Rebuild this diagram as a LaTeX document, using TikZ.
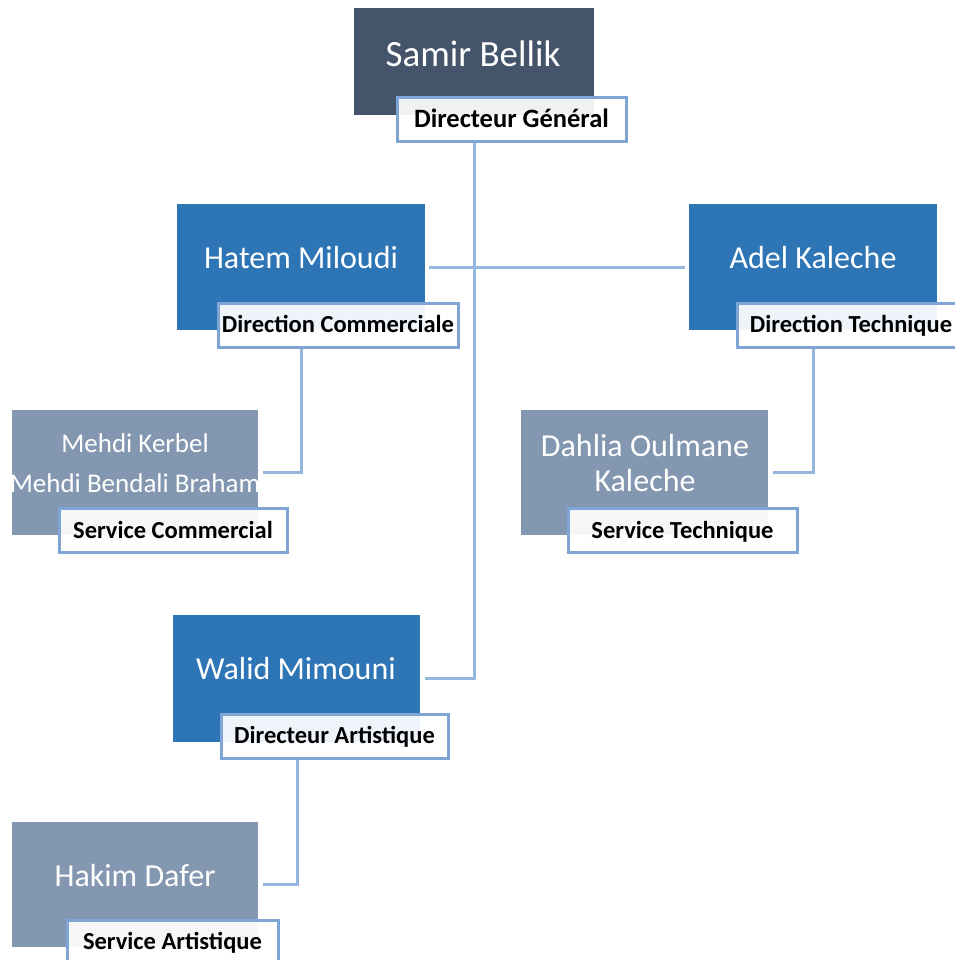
\documentclass[tikz,border=0pt]{standalone}
\usepackage{fontspec}
\setmainfont{Carlito}
\definecolor{slate}{HTML}{44546A}
\definecolor{chief}{HTML}{2E75B6}
\definecolor{staff}{HTML}{8497B0}
\definecolor{wire}{HTML}{95B6DF}
\definecolor{rim}{HTML}{7FA5D6}
\begin{document}
\begin{tikzpicture}[x=1pt,y=-1pt,
    box/.style={fill=#1,draw=none,inner sep=0pt},
    role/.style={draw=rim,line width=3pt,fill=white,fill opacity=0.92,text opacity=1,
      inner sep=0pt,minimum height=44pt,text height=15.5pt,text depth=0pt,
      font=\fontsize{24.5}{29}\selectfont\bfseries},
    who/.style={text=white,align=center,font=\fontsize{#1}{#1}\selectfont},
    link/.style={draw=wire,line width=3pt}]
  \useasboundingbox (0,0) rectangle (954,960);
  % people
  \node[box=slate,minimum width=240pt,minimum height=107pt] (samir) at (474,61.5) {};
  \node[box=chief,minimum width=248pt,minimum height=126pt] (hatem) at (301,267) {};
  \node[box=chief,minimum width=248pt,minimum height=126pt] (adel) at (813,267) {};
  \node[box=staff,minimum width=246pt,minimum height=125pt] (mehdi) at (135,472.5) {};
  \node[box=staff,minimum width=247pt,minimum height=125pt] (dahlia) at (644.5,472.5) {};
  \node[box=chief,minimum width=247pt,minimum height=127pt] (walid) at (296.5,678.5) {};
  \node[box=staff,minimum width=246pt,minimum height=125pt] (hakim) at (135,884.5) {};
  \node[who=37] (samirname) at (473,54) {Samir Bellik};
  \node[who=32] (hatemname) at (301,258) {Hatem Miloudi};
  \node[who=32] (adelname) at (813,258) {Adel Kaleche};
  \node[who=27,text depth=0pt] (mehdiname) at (135,463) {Mehdi Kerbel\\[13pt]Mehdi Bendali Braham};
  \node[who=32,align=center] (dahlianame) at (645,463) {Dahlia Oulmane\\[3pt]Kaleche};
  \node[who=32] (walidname) at (296,668) {Walid Mimouni};
  \node[who=32] (hakimname) at (135,875) {Hakim Dafer};
  % roles
  \node[role,minimum width=229pt,text height=17pt,font=\fontsize{26.5}{31}\selectfont\bfseries] (dg) at (511.5,119.5) {Directeur Général};
  \node[role,minimum width=240pt] (dc) at (338,325) {Direction Commerciale};
  \node[role,minimum width=228pt] (dt) at (851,325) {Direction Technique};
  \node[role,minimum width=228pt] (sc) at (173,530.5) {Service Commercial};
  \node[role,minimum width=229pt] (st) at (682.5,530.5) {Service Technique};
  \node[role,minimum width=227pt] (da) at (334.5,736) {Directeur Artistique};
  \node[role,minimum width=211pt] (sa) at (172.5,942) {Service Artistique};
  \begin{scope}[link]
    \draw ([xshift=-37.5pt]dg.south) |- ([xshift=5pt]walid.east);
    \draw ([xshift=4pt]hatem.east) -- ([xshift=-4pt]adel.west);
    \draw ([xshift=-37pt]dc.south) |- ([xshift=5pt]mehdi.east);
    \draw ([xshift=-38pt]dt.south) |- ([xshift=5pt]dahlia.east);
    \draw ([xshift=-37.5pt]da.south) |- ([xshift=5pt]hakim.east);
  \end{scope}
\end{tikzpicture}
\end{document}
